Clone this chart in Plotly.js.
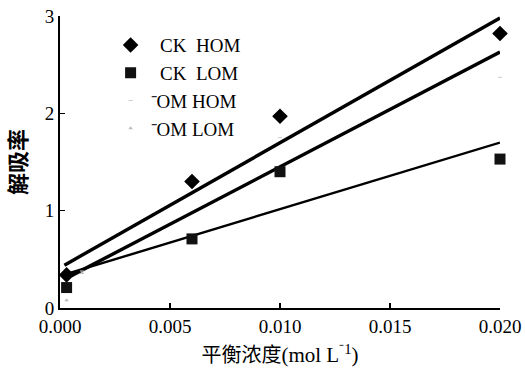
<!DOCTYPE html>
<html><head><meta charset="utf-8">
<script src="https://cdn.plot.ly/plotly-3.0.1.min.js"></script>
<style>body{margin:0;background:#fff}#c{width:525px;height:372px}</style>
</head><body><div id="c"></div>
<script>
// Data
const xCK = [0.0003, 0.006, 0.010, 0.020];
const ckHOM = [0.34, 1.30, 1.97, 2.82];
const ckLOM = [0.21, 0.71, 1.40, 1.53];
const xOMHOM = [0.001, 0.010, 0.020];
const omHOM = [0.38, 1.75, 2.37];
const xOMLOM = [0.0003, 0.001];
const omLOM = [0.08, 0.36];
// fitted trend lines (end points)
const fitX1 = [0.0002, 0.020]; const fit1 = [0.44, 2.98];
const fitX2 = [0.0005, 0.020]; const fit2 = [0.33, 2.63];
const fitX3 = [0.0003, 0.020]; const fit3 = [0.35, 1.70];
const xTicks = [0, 0.005, 0.010, 0.015, 0.020];
const xTickText = ['0.000', '0.005', '0.010', '0.015', '0.020'];
const yTicks = [0, 1, 2, 3];

const serif = 'Liberation Serif';
const cjk = 'Noto Sans CJK SC';
const traces = [
  {x: fitX1, y: fit1, mode: 'lines', line: {color: '#000', width: 3.4}, showlegend: false, hoverinfo: 'skip'},
  {x: fitX2, y: fit2, mode: 'lines', line: {color: '#000', width: 3.4}, showlegend: false, hoverinfo: 'skip'},
  {x: fitX3, y: fit3, mode: 'lines', line: {color: '#000', width: 2.4}, showlegend: false, hoverinfo: 'skip'},
  {x: xCK, y: ckHOM, mode: 'markers', name: '\u00a0\u00a0CK\u00a0\u00a0HOM',
   marker: {symbol: 'diamond', size: 12, color: '#000'}},
  {x: xCK, y: ckLOM, mode: 'markers', name: '\u00a0\u00a0CK\u00a0\u00a0LOM',
   marker: {symbol: 'square', size: 11, color: '#111'}},
  {x: xOMHOM, y: omHOM, mode: 'markers', name: '\u207bOM HOM',
   marker: {symbol: 'line-ew', size: 3, color: '#ccc', line: {color: '#ccc', width: 1}}},
  {x: xOMLOM, y: omLOM, mode: 'markers', name: '\u207bOM LOM',
   marker: {symbol: 'triangle-up', size: 4, color: '#bbb'}}
];
const layout = {
  width: 525, height: 372,
  margin: {l: 60, r: 25, t: 16, b: 64},
  paper_bgcolor: '#fff', plot_bgcolor: '#fff',
  font: {family: serif, color: '#000', size: 19},
  showlegend: true,
  legend: {x: 0.115, y: 0.965, xanchor: 'left', yanchor: 'top', bgcolor: 'rgba(0,0,0,0)',
           font: {family: serif, size: 19, color: '#000'}, tracegroupgap: 0, itemwidth: 30},
  xaxis: {range: [0, 0.020], tickvals: xTicks, ticktext: xTickText,
          showgrid: false, zeroline: false, showline: true, linecolor: '#000', linewidth: 2,
          ticks: 'inside', ticklen: 5, tickcolor: '#000', tickwidth: 1.5,
          tickfont: {family: serif, size: 19, color: '#000'},
          title: {text: '\u00a0\u00a0\u00a0\u00a0\u00a0\u00a0\u00a0\u00a0<span style="font-family:Noto Sans CJK SC;font-size:20px">平衡浓度</span>(mol\u00a0L<sup>\u207b1</sup>)', standoff: 12,
                  font: {family: serif, size: 21, color: '#000'}}},
  yaxis: {range: [0, 3], tickvals: yTicks, showgrid: false, zeroline: false,
          showline: true, linecolor: '#000', linewidth: 2,
          ticks: 'inside', ticklen: 5, tickcolor: '#000', tickwidth: 1.5,
          tickfont: {family: serif, size: 19, color: '#000'},
          title: {text: '解吸率', standoff: 16,
                  font: {family: cjk, size: 22, weight: 'bold', color: '#000'}}}
};
traces.forEach(t => { t.cliponaxis = false; });
Plotly.newPlot('c', traces, layout, {displayModeBar: false, staticPlot: true});
</script></body></html>
